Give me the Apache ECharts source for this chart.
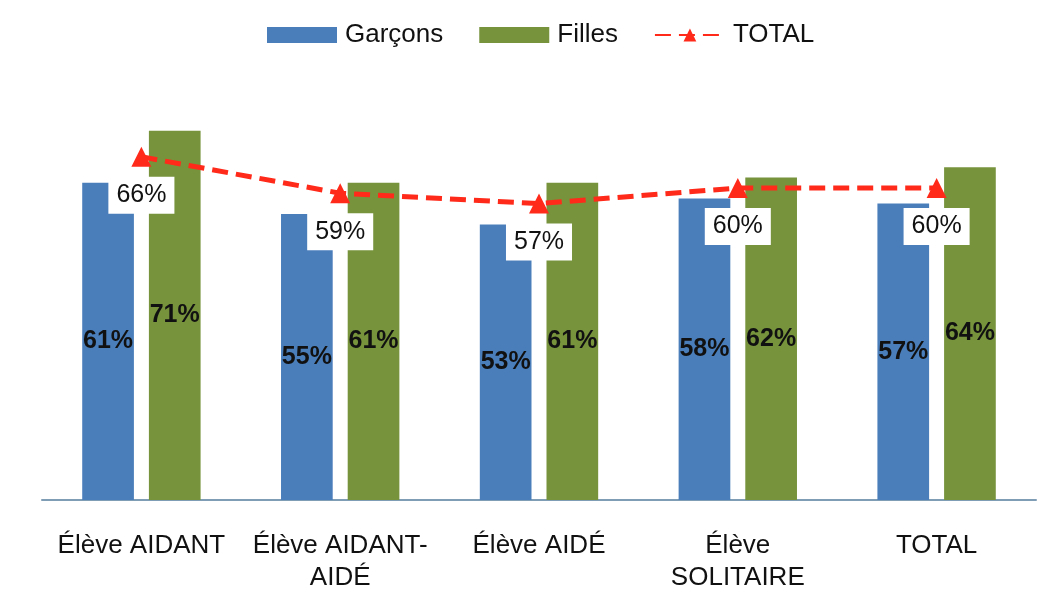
<!DOCTYPE html>
<html>
<head>
<meta charset="utf-8">
<script src="https://cdn.jsdelivr.net/npm/echarts@6/dist/echarts.min.js"></script>
<style>
  html, body { margin: 0; padding: 0; background: #fff; }
  #chart { width: 1046px; height: 597px; }
</style>
</head>
<body>
<div id="chart"></div>
<script>
// données
let categories = ['Élève AIDANT', 'Élève AIDANT-\nAIDÉ', 'Élève AIDÉ', 'Élève\nSOLITAIRE', 'TOTAL'];
let garcons = [61, 55, 53, 58, 57];
let filles = [71, 61, 61, 62, 64];
let total = [66, 59, 57, 60, 60];

let font = "'Liberation Sans', Arial, sans-serif";
let myChart = echarts.init(document.getElementById('chart'));
myChart.setOption({
    animation: false,
    textStyle: {fontFamily: font},
    legend: {
        top: 17,
        left: 262,
        itemWidth: 70,
        itemHeight: 16,
        itemGap: 36,
        textStyle: {fontSize: 26, color: '#111', fontFamily: font, padding: [0, 0, 0, 3]},
        data: [
            {name: 'Garçons', icon: 'rect'},
            {name: 'Filles', icon: 'rect'},
            'TOTAL'
        ]
    },
    grid: {left: 42, right: 10, top: 84, bottom: 97},
    xAxis: {
        type: 'category',
        data: categories,
        axisLine: {lineStyle: {color: '#7f9db5', width: 2}},
        axisTick: {show: false},
        axisLabel: {interval: 0, fontSize: 26, color: '#111', margin: 30, lineHeight: 32, fontFamily: font}
    },
    yAxis: {
        type: 'value',
        min: 0,
        max: 80,
        show: false
    },
    series: [
        {
            name: 'Garçons',
            type: 'bar',
            data: garcons,
            barWidth: '26%',
            barGap: '29%',
            itemStyle: {color: '#4a7ebb'},
            label: {
                show: true,
                position: 'inside',
                formatter: '{c}%',
                fontSize: 25,
                fontWeight: 'bold',
                color: '#111',
                fontFamily: font
            }
        },
        {
            name: 'Filles',
            type: 'bar',
            data: filles,
            barWidth: '26%',
            itemStyle: {color: '#77933c'},
            label: {
                show: true,
                position: 'inside',
                formatter: '{c}%',
                fontSize: 25,
                fontWeight: 'bold',
                color: '#111',
                fontFamily: font
            }
        },
        {
            name: 'TOTAL',
            type: 'line',
            data: total,
            symbol: 'triangle',
            symbolSize: 20,
            itemStyle: {color: '#ff2a1a'},
            lineStyle: {color: '#ff2a1a', width: 5, type: [16, 8]},
            z: 5,
            label: {
                show: true,
                position: 'bottom',
                distance: 10,
                formatter: '{c}%',
                fontSize: 25,
                color: '#111',
                backgroundColor: '#fff',
                padding: [6, 8],
                fontFamily: font
            }
        }
    ]
});
</script>
</body>
</html>
